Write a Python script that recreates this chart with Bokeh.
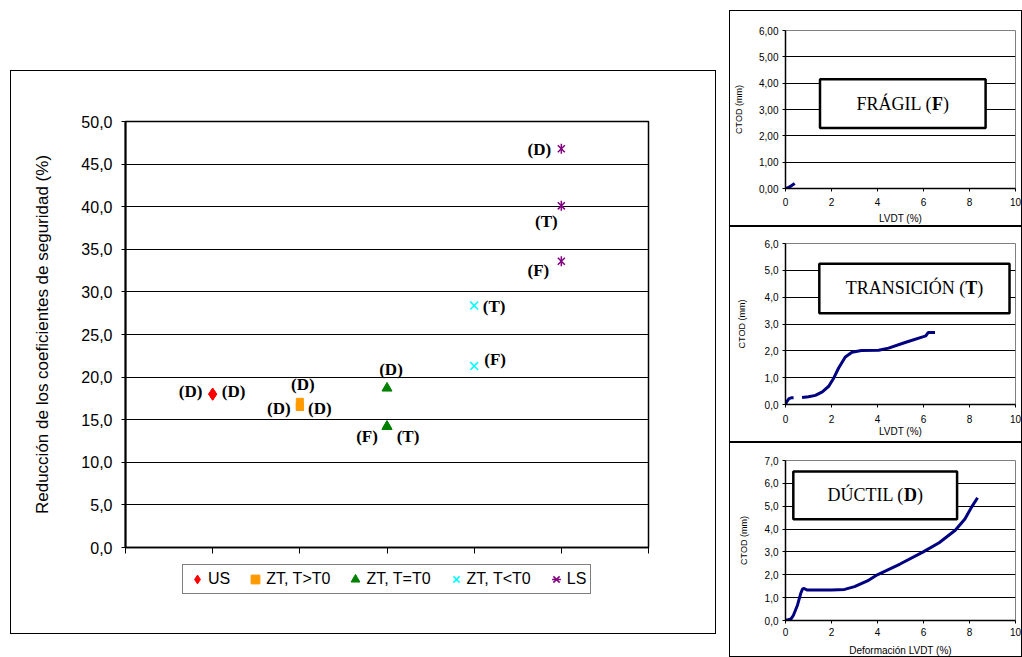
import math
from bokeh.plotting import figure
from bokeh.models import Range1d, FixedTicker, Legend, LegendItem, ColumnDataSource
from bokeh.layouts import row, column
from bokeh.embed import file_html
from bokeh.resources import INLINE
from bokeh.core.properties import value

# ---------------- main chart data ----------------
groups = ["US", "ZT, T>T0", "ZT, T=T0", "ZT, T<T0", "LS"]
group_pos = [1, 2, 3, 4, 5]

us_vals = [18.0, 18.0]
us_modes = ["D", "D"]
zt_hot_vals = [17.1, 16.5, 16.5]
zt_hot_modes = ["D", "D", "D"]
zt_eq_vals = [18.7, 14.2, 14.2]
zt_eq_modes = ["D", "F", "T"]
zt_cold_vals = [28.4, 21.3]
zt_cold_modes = ["T", "F"]
ls_vals = [46.8, 40.1, 33.6]
ls_modes = ["D", "T", "F"]

y_ticks = [0, 5, 10, 15, 20, 25, 30, 35, 40, 45, 50]
x_ticks = [0, 1, 2, 3, 4, 5, 6]

# ---------------- CTOD vs LVDT curves ----------------
fragil_lvdt = [0.0, 0.08, 0.15, 0.25, 0.33, 0.40]
fragil_ctod = [0.0, 0.02, 0.05, 0.10, 0.15, 0.19]

nan = float("nan")
trans_lvdt = [0.0, 0.05, 0.15, 0.25, 0.35, nan,
              0.72, 1.0, 1.3, 1.6, 1.88, 2.1, 2.31, 2.6, 2.89, 3.3, 4.05, 4.48,
              5.2, 6.0, 6.1, 6.2, 6.5]
trans_ctod = [0.0, 0.10, 0.22, 0.25, 0.25, nan,
              0.26, 0.29, 0.34, 0.47, 0.68, 0.99, 1.36, 1.77, 1.95, 2.01, 2.02, 2.10,
              2.31, 2.53, 2.56, 2.68, 2.68]

ductil_lvdt = [0.0, 0.24, 0.34, 0.52, 0.66, 0.74, 0.81, 0.95, 2.0, 2.57, 3.0, 3.56,
               3.99, 4.98, 5.97, 6.68, 7.38, 7.8, 8.09, 8.35]
ductil_ctod = [0.0, 0.07, 0.22, 0.67, 1.18, 1.38, 1.40, 1.33, 1.33, 1.36, 1.48, 1.73,
               2.00, 2.47, 2.99, 3.40, 3.95, 4.44, 4.96, 5.37]

panel_x_ticks = [0, 2, 4, 6, 8, 10]


def comma(v, nd):
    return f"{v:.{nd}f}".replace(".", ",")


# ---------------- main scatter chart (plot area) ----------------
main = figure(width=706, height=492, x_range=Range1d(0, 6), y_range=Range1d(0, 50),
              output_backend="svg", toolbar_location=None,
              min_border_left=114, min_border_right=69, min_border_top=50, min_border_bottom=16,
              styles={"border-top": "1px solid #000000", "border-left": "1px solid #000000",
                      "border-right": "1px solid #000000"},
              background_fill_color="white", border_fill_color="white")
main.outline_line_color = "black"
main.outline_line_width = 1.5
main.xgrid.grid_line_color = None
main.ygrid.ticker = FixedTicker(ticks=y_ticks)
main.ygrid.grid_line_color = "black"
main.ygrid.grid_line_width = 1

ya = main.yaxis[0]
ya.ticker = FixedTicker(ticks=y_ticks)
ya.major_label_overrides = {t: comma(t, 1) for t in y_ticks}
ya.major_label_text_font = "Liberation Sans"
ya.major_label_text_font_size = "16px"
ya.major_label_text_color = "black"
ya.major_label_standoff = 9
ya.major_tick_out = 4
ya.major_tick_in = 0
ya.minor_tick_line_color = None
ya.axis_line_width = 2
ya.axis_label = "Reducción de los coeficientes de seguridad (%)"
ya.axis_label_text_font = "Liberation Sans"
ya.axis_label_text_font_size = "17px"
ya.axis_label_text_font_style = "normal"
ya.axis_label_text_color = "black"
ya.axis_label_standoff = 26

xa = main.xaxis[0]
xa.ticker = FixedTicker(ticks=x_ticks)
xa.major_label_overrides = {t: "" for t in x_ticks}
xa.major_label_text_font_size = "0px"
xa.major_tick_out = 6
xa.major_tick_in = 0
xa.minor_tick_line_color = None
xa.axis_line_width = 1.5

# each series: list of (marker, angle) layers drawn on top of each other
series = [
    dict(vals=us_vals, modes=us_modes, layers=[("diamond", 0)], color="#FF0000", size=12, lw=1,
         offs=[(-22, -3), (21, -3)]),
    dict(vals=zt_hot_vals, modes=zt_hot_modes, layers=[("square", 0)], color="#FF9900", size=7, lw=1,
         offs=[(3, -17), (-21, 2), (20, 2)]),
    dict(vals=zt_eq_vals, modes=zt_eq_modes, layers=[("triangle", 0)], color="#008000", size=10, lw=1,
         offs=[(4, -19), (-20, 10), (21, 10)]),
    dict(vals=zt_cold_vals, modes=zt_cold_modes, layers=[("x", 0)], color="#00FFFF", size=11, lw=1.5,
         offs=[(20, 1), (21, -7)]),
    dict(vals=ls_vals, modes=ls_modes, layers=[("x", 0), ("dash", math.pi / 2)], color="#800080",
         size=10, lw=1.5, offs=[(-22, 1), (-15, 16), (-23, 9)]),
]

sources = []
for pos, s in zip(group_pos, series):
    n = len(s["vals"])
    src = ColumnDataSource(dict(
        x=[pos] * n, y=s["vals"],
        txt=[f"({m})" for m in s["modes"]],
        dx=[o[0] for o in s["offs"]], dy=[o[1] for o in s["offs"]],
    ))
    sources.append(src)
    for marker, ang in s["layers"]:
        main.scatter("x", "y", source=src, marker=marker, angle=ang, size=s["size"],
                     fill_color=s["color"], line_color=s["color"], line_width=s["lw"])
    main.text("x", "y", text="txt", x_offset="dx", y_offset="dy", source=src,
              text_font=value("Liberation Serif"), text_font_style="bold",
              text_font_size="17px", text_align="center", text_baseline="middle",
              text_color="black")

# ---------------- legend strip under the plot area ----------------
# its frame lines up with the plot area above (same left/right edges)
legend_strip = figure(width=706, height=72, x_range=Range1d(0, 1), y_range=Range1d(0, 1),
                      output_backend="svg", toolbar_location=None,
                      x_axis_location=None, y_axis_location=None,
                      min_border_left=0, min_border_right=0, min_border_top=0, min_border_bottom=0,
                      styles={"border-bottom": "1px solid #000000", "border-left": "1px solid #000000",
                              "border-right": "1px solid #000000"},
                      background_fill_color="white", border_fill_color="white")
legend_strip.outline_line_color = None
for g in legend_strip.grid:
    g.visible = False

items = []
for name, s, src in zip(groups, series, sources):
    # same data as the plot; it lies outside this strip's ranges, only the key glyph shows
    rs = [legend_strip.scatter("x", "y", source=src, marker=marker, angle=ang, size=s["size"],
                               fill_color=s["color"], line_color=s["color"], line_width=s["lw"])
          for marker, ang in s["layers"]]
    items.append(LegendItem(label=name, renderers=rs))

legend = Legend(items=items, orientation="horizontal", location=(57, 40),
                label_text_font="Liberation Sans", label_text_font_size="16px",
                label_text_color="black", glyph_width=22, glyph_height=22, label_height=22,
                label_standoff=0, spacing=14, padding=3, margin=0,
                border_line_color="black", border_line_width=1,
                background_fill_color="white", background_fill_alpha=1)
legend_strip.add_layout(legend)

# ---------------- small CTOD panels ----------------
REG = {"F": .556, "R": .667, "Á": .722, "G": .722, "I": .333, "L": .611, " ": .25,
       "(": .333, ")": .333, "T": .611, "A": .722, "N": .722, "S": .556, "C": .667,
       "Ó": .722, "D": .722, "Ú": .722}
BOLD = {"F": .611, "T": .667, "D": .722}


def titled_box(p, box, prefix, key, suffix, size=18):
    left, right, bottom, top = box
    p.quad(left=[left], right=[right], bottom=[bottom], top=[top],
           fill_color="white", line_color="black", line_width=2.5)
    w_pre = sum(REG[c] for c in prefix) * size
    w_key = BOLD[key] * size
    w_suf = sum(REG[c] for c in suffix) * size
    start = -(w_pre + w_key + w_suf) / 2
    common = dict(x=[(left + right) / 2], y=[(bottom + top) / 2],
                  text_font=value("Liberation Serif"), text_font_size=f"{size}px",
                  text_baseline="middle", text_align="left", text_color="black")
    p.text(text=[prefix], x_offset=start, **common)
    p.text(text=[key], x_offset=start + w_pre, text_font_style="bold", **common)
    p.text(text=[suffix], x_offset=start + w_pre + w_key, **common)


def ctod_panel(height, borders, margin, y_max, decimals, x_title, lvdt, ctod,
               y_title_standoff, x_label_standoff, x_title_standoff):
    left, right, top, bottom = borders
    p = figure(width=293, height=height, x_range=Range1d(0, 10), y_range=Range1d(0, y_max),
               output_backend="svg", toolbar_location=None,
               min_border_left=left, min_border_right=right,
               min_border_top=top, min_border_bottom=bottom,
               margin=margin, styles={"border": "1px solid #000000"},
               background_fill_color="white", border_fill_color="white")
    p.outline_line_color = "#808080"
    p.outline_line_width = 1
    yt = list(range(0, y_max + 1))
    p.xgrid.grid_line_color = None
    p.ygrid.ticker = FixedTicker(ticks=yt)
    p.ygrid.grid_line_color = "black"
    p.ygrid.grid_line_width = 1

    ay = p.yaxis[0]
    ay.ticker = FixedTicker(ticks=yt)
    ay.major_label_overrides = {t: comma(t, decimals) for t in yt}
    ay.axis_label = "CTOD (mm)"
    ay.axis_label_standoff = y_title_standoff
    ax = p.xaxis[0]
    ax.ticker = FixedTicker(ticks=panel_x_ticks)
    ax.axis_label = x_title
    ax.major_label_standoff = x_label_standoff
    ax.axis_label_standoff = x_title_standoff
    for a in (ax, ay):
        a.major_label_text_font = "Liberation Sans"
        a.major_label_text_font_size = "10px"
        a.major_label_text_color = "black"
        a.axis_label_text_font = "Liberation Sans"
        a.axis_label_text_font_style = "normal"
        a.axis_label_text_color = "black"
        a.major_tick_out = 3
        a.major_tick_in = 0
        a.minor_tick_line_color = None
        a.axis_line_width = 1.5
    ay.major_label_standoff = 4
    ay.axis_label_text_font_size = "9px"
    ax.axis_label_text_font_size = "10px"

    p.line(lvdt, ctod, line_color="#000080", line_width=3)
    return p


p1 = ctod_panel(216, (55, 2, 19, 39), (10, 0, 0, 0), 6, 2, "LVDT (%)",
                fragil_lvdt, fragil_ctod, 12, 6, 4)
titled_box(p1, (1.5, 8.7, 2.3, 4.15), "FRÁGIL (", "F", ")")

p2 = ctod_panel(216, (51, 8, 16, 39), (0, 0, 0, 0), 6, 1, "LVDT (%)",
                trans_lvdt, trans_ctod, 15, 7, 0)
titled_box(p2, (1.47, 9.74, 3.4, 5.25), "TRANSICIÓN (", "T", ")")

p3 = ctod_panel(215, (47, 8, 17, 35), (0, 0, 0, 0), 7, 1, "Deformación LVDT (%)",
                ductil_lvdt, ductil_ctod, 13, 4, 6)
titled_box(p3, (0.34, 7.46, 4.43, 6.52), "DÚCTIL (", "D", ")")

left_block = column(main, legend_strip, spacing=0, margin=(70, 13, 0, 10))
layout = row(left_block, column(p1, p2, p3, spacing=0), spacing=0)

open("out.html", "w").write(file_html(layout, INLINE))
